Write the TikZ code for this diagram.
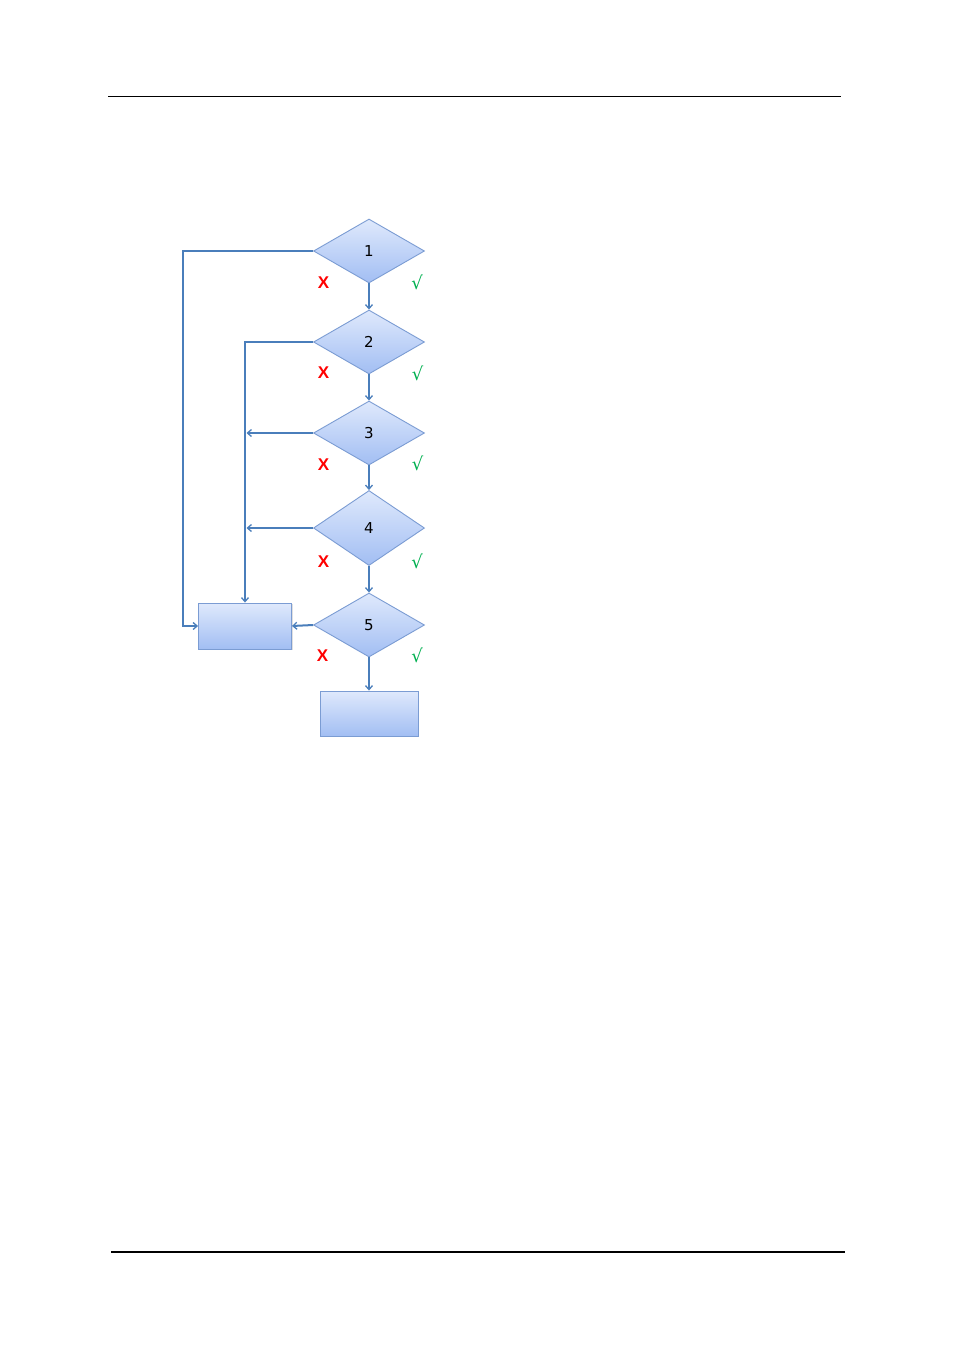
\documentclass[tikz,border=0pt]{standalone}
\usepackage{fontspec}
\setmainfont{DejaVu Sans}
\newfontfamily\arialb{Liberation Sans}
\usetikzlibrary{shapes.geometric,arrows.meta,shadows}
\definecolor{lineblue}{HTML}{4A7EBB}
\definecolor{edgeblue}{HTML}{7B9CD3}
\definecolor{topblue}{HTML}{DFE9FC}
\definecolor{botblue}{HTML}{A2BEF3}
\definecolor{okgreen}{HTML}{00B050}
\tikzset{
  dec/.style={shape=diamond, draw=edgeblue, line width=0.9pt, top color=topblue, bottom color=botblue,
    minimum width=111pt, minimum height=64pt, inner sep=0pt, font=\fontsize{15}{17}\selectfont},
  box/.style={rectangle, draw=edgeblue, line width=0.9pt, top color=topblue, bottom color=botblue,
    inner sep=0pt, drop shadow={shadow xshift=1.2pt, shadow yshift=-1.2pt, opacity=0.25}},
  arr/.style={draw=lineblue, line width=2pt, -{Straight Barb[length=4pt,width=7pt,line width=1.3pt]}},
  nolbl/.style={text=red, font=\arialb\bfseries\fontsize{17}{19}\selectfont, inner sep=0pt},
  yeslbl/.style={text=okgreen, font=\fontsize{18}{20}\selectfont, inner sep=0pt},
}
\begin{document}
\begin{tikzpicture}[x=1pt,y=-1pt]
\path[use as bounding box, fill=white] (0,0) rectangle (955,1350);
\draw[line width=1pt] (108,96) -- (841,96);
\draw[line width=2pt] (111,1251.5) -- (845,1251.5);

\node[dec] (d1) at (369,251) {1};
\node[dec] (d2) at (369,342) {2};
\node[dec] (d3) at (369,433) {3};
\node[dec, minimum height=75pt] (d4) at (369,528) {4};
\node[dec] (d5) at (369,625) {5};
\node[box, minimum width=93pt, minimum height=46pt] (r1) at (245,626) {};
\node[box, minimum width=98pt, minimum height=45pt] (r2) at (369,713.5) {};

\coordinate (c1) at (183,251);

\draw[arr] (d1.south) -- (d2.north);
\draw[arr] (d2.south) -- (d3.north);
\draw[arr] (d3.south) -- (d4.north);
\draw[arr] (d4.south) -- (d5.north);
\draw[arr] (d5.south) -- (r2.north);

\draw[arr] (d1.west) -- (c1) |- (r1.west);
\draw[arr] (d2.west) -| (r1.north);
\draw[arr] (d3.west) -- ([xshift=1.5pt]d3.west -| r1.north);
\draw[arr] (d4.west) -- ([xshift=1.5pt]d4.west -| r1.north);
\draw[arr] (d5.west) -- (r1.east);

\node[nolbl] (x1) at (323.5,282.5) {X};
\node[nolbl] (x2) at (323.5,372.5) {X};
\node[nolbl] (x3) at (323.5,464.5) {X};
\node[nolbl] (x4) at (323.5,561.5) {X};
\node[nolbl] (x5) at (322.5,655.5) {X};

\node[yeslbl] (k1) at (417,282) {√};
\node[yeslbl] (k2) at (417.5,373) {√};
\node[yeslbl] (k3) at (417.5,463) {√};
\node[yeslbl] (k4) at (417,561.5) {√};
\node[yeslbl] (k5) at (417,655) {√};
\end{tikzpicture}
\end{document}
